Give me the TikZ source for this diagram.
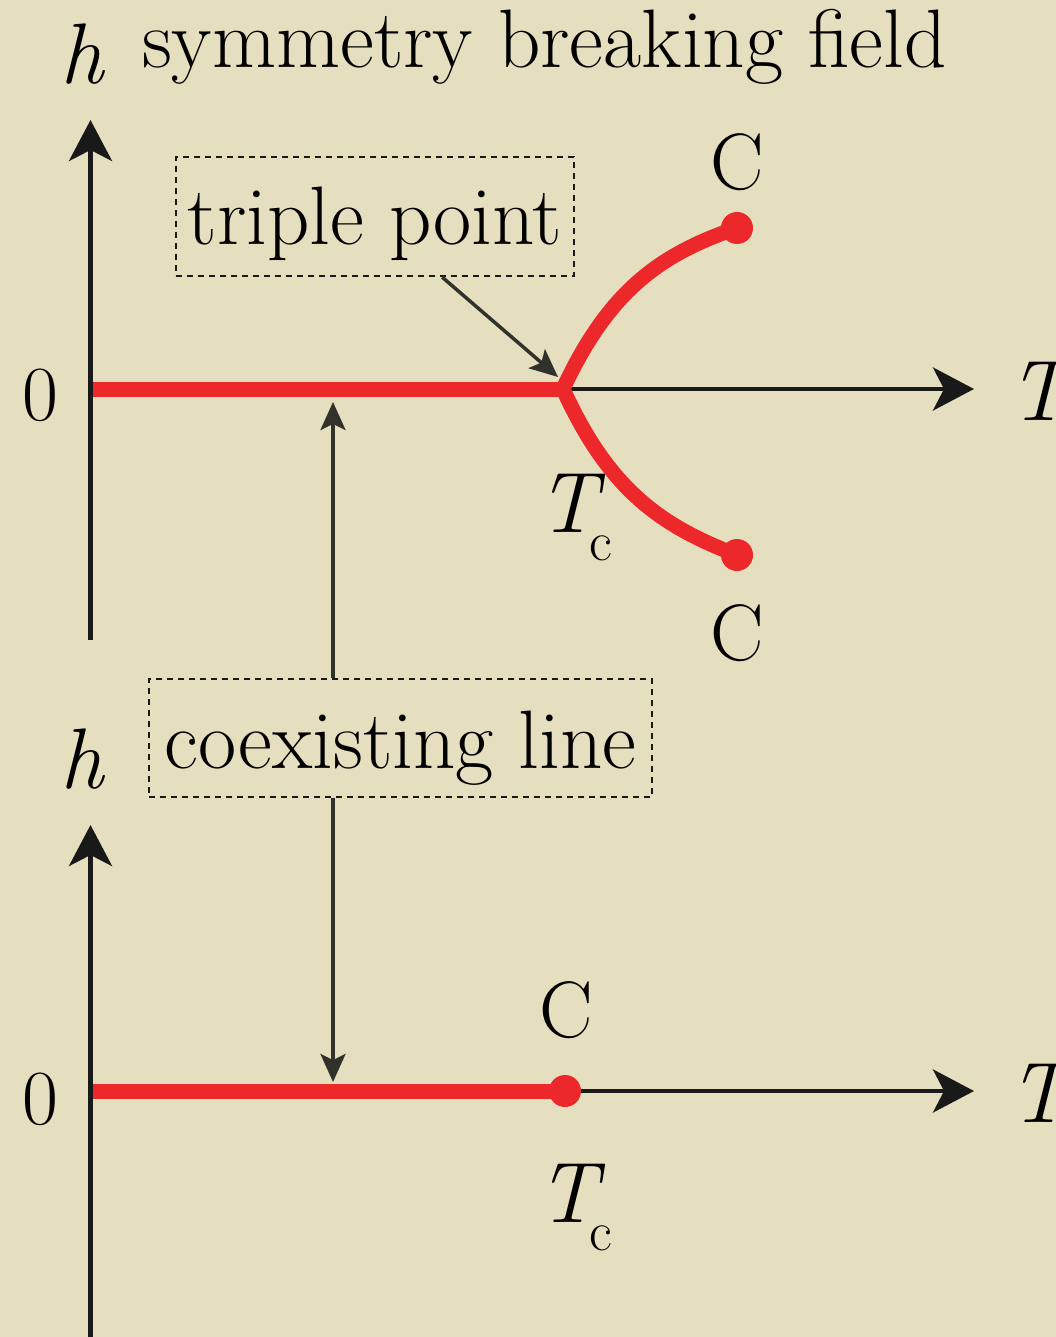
\documentclass[tikz,border=0pt]{standalone}
\usepackage{fontspec}
\usetikzlibrary{arrows.meta,calc}
\definecolor{bg}{RGB}{229,223,191}
\definecolor{redline}{RGB}{237,40,42}
\definecolor{ink}{RGB}{25,25,25}
\definecolor{pointerink}{RGB}{50,50,45}
\begin{document}
\begin{tikzpicture}[x=1pt,y=-1pt,
  axis/.style={draw=ink, line width=4.5pt, -{Stealth[length=41pt,width=43pt,inset=11pt]}},
  phase/.style={draw=redline, line width=15pt},
  cpoint/.style={circle, fill=redline, minimum size=32pt, inner sep=0pt},
  labelbox/.style={draw=ink, line width=2.5pt, dash pattern=on 6pt off 5pt, inner sep=0pt,
    font=\fontsize{83}{90}\selectfont},
  pointer/.style={draw=pointerink, line width=3.5pt, -{Stealth[length=28pt,width=25pt,inset=6pt]}},
  bigtext/.style={font=\fontsize{83}{90}\selectfont, inner sep=0pt},
  mathlabel/.style={font=\fontsize{86}{90}\selectfont\itshape, inner sep=0pt, anchor=base},
  clabel/.style={font=\fontsize{80}{90}\selectfont, inner sep=0pt, anchor=base},
  zerolabel/.style={font=\fontsize{78}{90}\selectfont, inner sep=0pt, anchor=base},
  sublabel/.style={font=\fontsize{56}{60}\selectfont, inner sep=0pt, anchor=base}
]
\fill[bg] (0,0) rectangle (1056,1337);
\useasboundingbox (0,0) rectangle (1056,1337);

% ---------- top diagram ----------
\coordinate (tyBot) at (90.5,640);
\coordinate (tyTop) at (90.5,120);
\coordinate (txLeft) at (90.5,389);
\coordinate (txRight) at (974,389);
\draw[axis] (tyBot) -- (tyTop);
\draw[axis] (txLeft) -- (txRight);

\node[mathlabel] (hTop) at (82,84) {h};
\node[bigtext, anchor=base west] (title) at (142,68) {symmetry breaking field};
\node[zerolabel] (zeroTop) at (40,420) {0};
\node[mathlabel, anchor=base west] (TTop) at (1008,420) {T};

\coordinate (redStartTop) at (93,389);
\coordinate (tp) at (563,389);
\node[cpoint] (cUp) at (737,228) {};
\node[cpoint] (cDown) at (737,555) {};
\draw[phase] (redStartTop) -- (tp);
\draw[phase, line cap=round] (tp) .. controls (609,290) and (661,254) .. (cUp.center);
\draw[phase, line cap=round] (tp) .. controls (609,490) and (661,526) .. (cDown.center);

\node[clabel] (cUpLabel) at (737,190) {C};
\node[clabel] (cDownLabel) at (737,660) {C};
\node[mathlabel] (TcTop) at (568,532) {T};
\node[sublabel] (cSubTop) at (601,560) {c};

\node[labelbox, minimum width=398pt, minimum height=119pt, text height=72pt, text depth=15pt]
  (tbox) at (375,216.5) {triple point};
\coordinate (tpTip) at (558,377);
\draw[pointer] ($(tbox.south west)!0.668!(tbox.south east)$) -- (tpTip);

% ---------- coexisting line box ----------
\node[labelbox, minimum width=503pt, minimum height=118pt, text height=78pt, text depth=18pt]
  (cbox) at (400.5,738) {coexisting line};
\coordinate (upTip) at (333,402);
\coordinate (downTip) at (333,1082);
\draw[pointer] (cbox.north -| upTip) -- (upTip);
\draw[pointer] (cbox.south -| downTip) -- (downTip);

% ---------- bottom diagram ----------
\coordinate (byBot) at (90.5,1337);
\coordinate (byTop) at (90.5,825);
\coordinate (bxLeft) at (90.5,1091);
\coordinate (bxRight) at (974,1091);
\draw[axis] (byBot) -- (byTop);
\draw[axis] (bxLeft) -- (bxRight);

\node[mathlabel] (hBot) at (82,788) {h};
\node[zerolabel] (zeroBot) at (40,1124) {0};
\node[mathlabel, anchor=base west] (TBot) at (1008,1122) {T};

\coordinate (redStartBot) at (93,1091);
\node[cpoint] (cBot) at (565,1091) {};
\draw[phase] (redStartBot) -- (cBot.center);
\node[clabel] (cBotLabel) at (566,1037) {C};
\node[mathlabel] (TcBot) at (568,1222) {T};
\node[sublabel] (cSubBot) at (601,1250) {c};
\end{tikzpicture}
\end{document}
